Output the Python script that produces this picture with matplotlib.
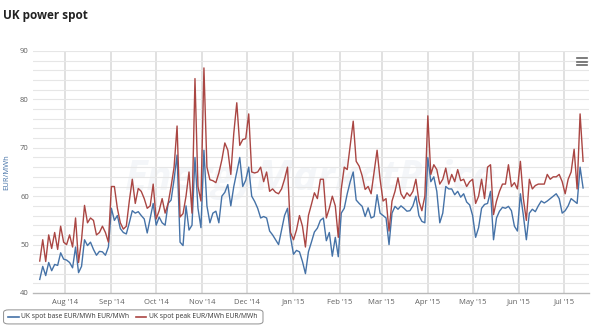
import matplotlib
matplotlib.use("Agg")
import matplotlib.pyplot as plt
import matplotlib.dates as mdates
from matplotlib.lines import Line2D
from matplotlib.patches import FancyBboxPatch
import numpy as np

# UK spot prices, one reading every second day from 15 Jul 2014
start_date = np.datetime64("2014-07-15")
step_days = 2

base_prices = [
    42.8, 45.5, 43.6, 46.3, 44.6, 45.9, 45.7, 48.3, 47.0, 46.8,
    46.3, 45.2, 49.5, 44.2, 45.5, 51.0, 49.8, 50.5, 49.0, 47.8,
    48.6, 48.5, 47.8, 49.5, 57.5, 55.0, 56.0, 53.3, 52.5, 52.2,
    54.5, 57.0, 56.5, 56.8, 56.0, 55.3, 52.4, 55.5, 58.5, 54.0,
    55.7, 54.5, 54.0, 58.5, 59.2, 63.5, 68.5, 50.5, 49.8, 58.0,
    53.0, 54.0, 68.0, 57.5, 53.5, 69.5, 58.0, 54.5, 56.5, 56.9,
    54.5, 60.0, 60.8, 62.4, 58.0, 62.0, 65.0, 68.0, 62.0, 63.3,
    66.0, 60.0, 58.9, 57.5, 55.5, 55.8, 55.5, 52.8, 52.0, 51.0,
    50.0, 53.0, 56.0, 57.5, 51.5, 48.0, 48.8, 48.5, 46.5, 44.0,
    48.5, 50.5, 52.6, 53.4, 55.0, 55.5, 50.8, 52.5, 47.6, 51.5,
    47.5, 56.5, 57.5, 60.5, 63.0, 65.0, 59.2, 58.5, 57.9, 55.8,
    57.6, 55.5, 55.8, 60.3, 56.5, 56.0, 55.5, 50.0, 56.5, 57.9,
    57.3, 58.0, 57.5, 56.9, 57.0, 58.0, 60.0, 56.0, 54.8, 54.5,
    68.0, 63.0, 64.0, 61.0, 54.5, 56.5, 62.0, 61.5, 61.5, 60.3,
    61.0, 59.8, 60.5, 58.8, 58.2, 56.0, 51.5, 53.5, 57.5, 58.3,
    58.5, 61.0, 51.0, 55.5, 56.9, 57.7, 57.5, 57.9, 57.0, 53.8,
    52.8, 60.5, 56.0, 51.0, 56.5, 57.3, 56.8, 58.0, 59.0, 58.6,
    59.0, 59.5, 60.0, 60.5, 59.5, 56.5, 57.0, 58.0, 59.5, 59.0,
    58.5, 66.0, 61.7,
]

peak_prices = [
    46.6, 51.0, 46.5, 52.0, 49.2, 52.5, 49.0, 53.8, 50.5, 50.0,
    52.0, 49.5, 55.5, 46.3, 51.0, 58.1, 54.5, 55.5, 55.0, 52.0,
    52.5, 53.8, 52.5, 50.5, 62.0, 62.0, 57.5, 54.5, 53.2, 53.8,
    59.0, 63.5, 58.5, 61.6, 61.0, 59.5, 57.5, 58.0, 62.5, 55.3,
    57.0, 59.5, 56.5, 58.5, 62.0, 66.0, 74.5, 55.7, 56.4, 60.0,
    65.0, 56.5, 84.3, 62.0, 59.0, 86.5, 66.0, 63.4, 63.2, 62.8,
    64.8, 67.5, 71.0, 69.5, 64.5, 73.0, 79.3, 70.5, 71.7, 71.9,
    77.0, 65.0, 64.8, 65.0, 66.0, 63.0, 65.0, 61.0, 61.5, 60.8,
    60.5, 61.5, 63.5, 66.0, 52.5, 51.0, 53.0, 56.0, 53.8, 49.5,
    56.0, 58.3, 60.7, 59.5, 63.5, 63.5, 55.5, 57.5, 60.0, 58.0,
    51.5, 61.5, 66.0, 65.5, 70.5, 75.5, 67.2, 66.2, 64.2, 61.4,
    62.0, 60.5, 65.0, 69.5, 63.5, 59.0, 59.5, 52.8, 59.0, 61.0,
    63.8, 60.5, 59.5, 60.7, 60.0, 61.0, 63.5, 59.0, 57.0, 60.0,
    76.6, 64.5, 66.5, 65.5, 62.5, 63.5, 65.8, 62.5, 64.5, 63.0,
    65.5, 63.2, 63.5, 62.0, 63.0, 63.5, 58.5, 60.0, 63.5, 59.5,
    66.0, 66.5, 56.2, 59.0, 61.0, 62.5, 62.5, 66.5, 62.0, 62.8,
    61.5, 67.2, 59.5, 55.0, 63.5, 61.5, 62.2, 62.5, 62.5, 62.5,
    64.5, 63.5, 64.0, 64.0, 64.5, 63.0, 60.5, 63.5, 65.0, 69.7,
    61.5, 77.0, 67.2,
]

series_labels = ["UK spot base EUR/MWh EUR/MWh", "UK spot peak EUR/MWh EUR/MWh"]
series_colors = ["#4572A7", "#AA4643"]

dates = start_date + np.arange(len(base_prices)) * step_days

plt.rcParams["font.family"] = ["Open Sans", "DejaVu Sans"]

fig = plt.figure(figsize=(5.95, 3.35), dpi=100)
ax = fig.add_axes([0.0555, 0.1254, 0.9345, 0.7224])

for values, color, label in zip([base_prices, peak_prices], series_colors, series_labels):
    ax.plot(dates, values, color=color, linewidth=1.0, label=label, zorder=3)

ax.set_ylim(40, 90)
ax.set_xlim(np.datetime64("2014-07-10T12:00"), np.datetime64("2015-07-18"))

# light horizontal grid every 2, month lines on x
for y in np.arange(42, 91, 2):
    ax.axhline(y, color="#e6e6e6", linewidth=0.8, zorder=1)
ax.set_yticks(np.arange(40, 91, 10))
ax.xaxis.set_major_locator(mdates.MonthLocator())
ax.xaxis.set_major_formatter(mdates.DateFormatter("%b '%y"))
ax.grid(axis="x", color="#dcdcdc", linewidth=1.2, zorder=1)
ax.set_axisbelow(True)

ax.tick_params(axis="both", length=0, labelsize=5.5, labelcolor="#606060")
ax.tick_params(axis="x", pad=4)
ax.tick_params(axis="y", pad=3)
for side in ["top", "right", "left"]:
    ax.spines[side].set_visible(False)
ax.spines["bottom"].set_color("#b8b8b8")
ax.spines["bottom"].set_linewidth(1.0)

ax.set_ylabel("EUR/MWh", fontsize=5.5, color="#4572A7", labelpad=7)

# faint watermark across the middle
ax.text(0.5, 0.47, "EnergyMarketPrice", transform=ax.transAxes, ha="center", va="center",
        fontsize=30, fontweight="bold", fontstyle="italic", color="#c8d6e4", alpha=0.2, zorder=0)

fig.text(0.005, 0.955, "UK power spot", fontsize=8.5, fontweight="bold", color="#222222",
         ha="left", va="center")

# menu icon at top right
for yy in [0.826, 0.816, 0.806]:
    fig.add_artist(Line2D([0.970, 0.986], [yy, yy], transform=fig.transFigure,
                          color="#666666", linewidth=1.2))

# legend box at the bottom
box = FancyBboxPatch((0.006, 0.033), 0.436, 0.042, boxstyle="round,pad=0,rounding_size=0.008",
                     transform=fig.transFigure, facecolor="white", edgecolor="#909090", linewidth=0.7)
fig.add_artist(box)
for x0, color, label in zip([0.014, 0.228], series_colors, series_labels):
    fig.add_artist(Line2D([x0, x0 + 0.018], [0.054, 0.054], transform=fig.transFigure,
                          color=color, linewidth=1.2))
    fig.text(x0 + 0.022, 0.054, label, fontsize=4.9, color="#333333", ha="left", va="center")

fig.savefig("out.png", dpi=100)
